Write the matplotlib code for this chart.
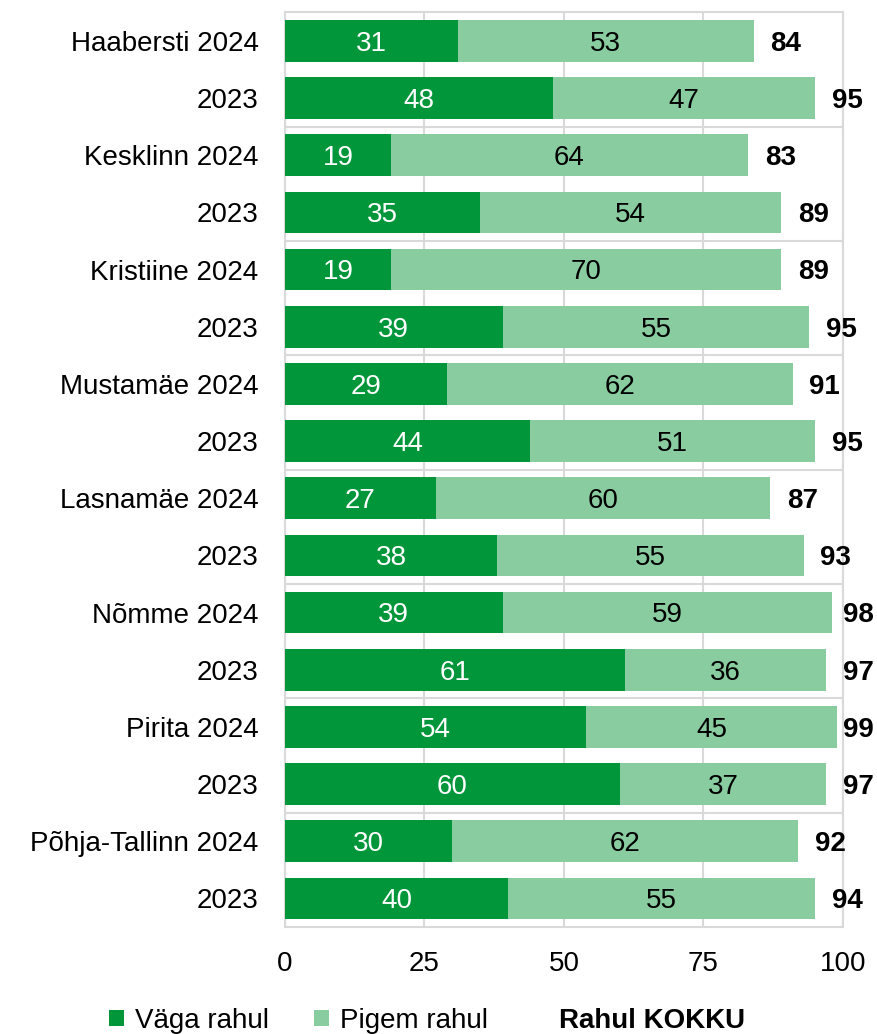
import matplotlib
matplotlib.use("Agg")
import matplotlib.pyplot as plt
from matplotlib.patches import Patch

plt.rcParams["font.family"] = ["Liberation Sans", "DejaVu Sans"]

labels = ["Haabersti 2024", "2023", "Kesklinn 2024", "2023", "Kristiine 2024", "2023",
          "Mustamäe 2024", "2023", "Lasnamäe 2024", "2023", "Nõmme 2024", "2023",
          "Pirita 2024", "2023", "Põhja-Tallinn 2024", "2023"]
vaga = [31, 48, 19, 35, 19, 39, 29, 44, 27, 38, 39, 61, 54, 60, 30, 40]
pigem = [53, 47, 64, 54, 70, 55, 62, 51, 60, 55, 59, 36, 45, 37, 62, 55]
kokku = [84, 95, 83, 89, 89, 95, 91, 95, 87, 93, 98, 97, 99, 97, 92, 94]

DARK = "#009639"
LIGHT = "#88CC9F"
GRID = "#D9D9D9"
FS = 20
DY = 0.05  # nudge labels down a touch so digits sit in the bar middle

fig = plt.figure(figsize=(8.77, 10.34), dpi=100)
ax = fig.add_axes([0.325, 0.1035, 0.636, 0.8845])

y = list(range(len(labels)))
ax.barh(y, vaga, height=0.73, color=DARK, zorder=3)
ax.barh(y, pigem, left=vaga, height=0.73, color=LIGHT, zorder=3)

for i in y:
    ax.text(vaga[i] / 2, i + DY, str(vaga[i]), ha="center", va="center",
            color="white", fontsize=FS, zorder=4)
    ax.text(vaga[i] + pigem[i] / 2, i + DY, str(pigem[i]), ha="center", va="center",
            color="black", fontsize=FS, zorder=4)
    # totals sit right of the bar, but are pulled back to the frame edge near 100
    ax.text(min(vaga[i] + pigem[i] + 3.0, 100), i + DY, str(kokku[i]), ha="left",
            va="center", color="black", fontsize=FS, fontweight="bold",
            zorder=4, clip_on=False)

ax.set_xlim(0, 100)
ax.set_ylim(len(labels) - 0.5, -0.5)
ax.set_xticks([0, 25, 50, 75, 100])
ax.set_yticks(y)
ax.set_yticklabels(labels)
ax.tick_params(axis="both", length=0, labelsize=FS)
ax.tick_params(axis="y", pad=19)
ax.tick_params(axis="x", pad=17)
ax.xaxis.grid(True, color=GRID, lw=1.5, zorder=0)
for k in range(1, len(labels) // 2):
    ax.axhline(2 * k - 0.5, color=GRID, lw=1.5, zorder=0)
for s in ax.spines.values():
    s.set_color(GRID)
    s.set_linewidth(1.5)

handles = [Patch(facecolor=DARK), Patch(facecolor=LIGHT),
           Patch(facecolor="none", edgecolor="none")]
leg = fig.legend(handles, ["Väga rahul", "Pigem rahul", "Rahul KOKKU"],
                 loc="lower center", bbox_to_anchor=(0.487, -0.016), ncol=3,
                 frameon=False, fontsize=FS, handlelength=0.55, handleheight=0.55,
                 handletextpad=0.4, columnspacing=1.6, borderpad=0.1)
leg.get_texts()[2].set_fontweight("bold")

fig.savefig("out.png", dpi=100)
